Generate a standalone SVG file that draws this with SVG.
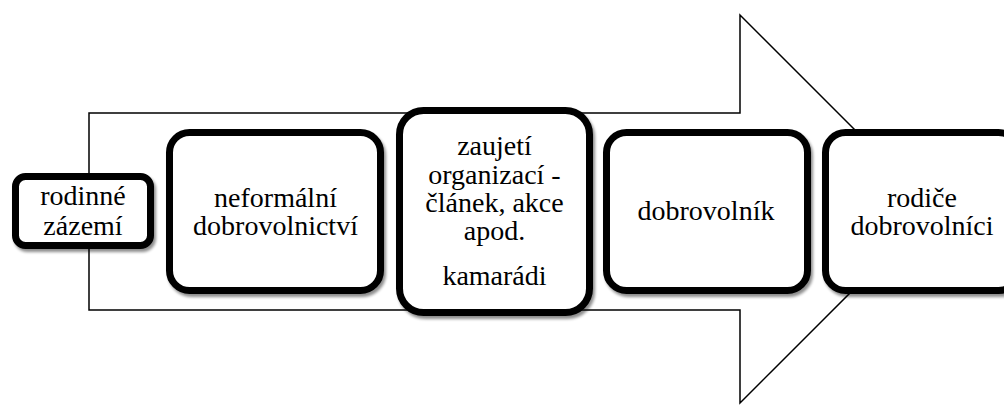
<svg xmlns="http://www.w3.org/2000/svg" width="1004" height="405" viewBox="0 0 1004 405">
<defs>
<filter id="sh" x="-10%" y="-10%" width="120%" height="125%">
<feGaussianBlur in="SourceAlpha" stdDeviation="1.5"/>
<feOffset dx="2" dy="3" result="b"/>
<feComponentTransfer><feFuncA type="linear" slope="0.45"/></feComponentTransfer>
<feMerge><feMergeNode/><feMergeNode in="SourceGraphic"/></feMerge>
</filter>
</defs>
<style>
.box{fill:#fff;stroke:#000;stroke-width:7;filter:url(#sh)}
.arrow{fill:#fff;stroke:#000;stroke-width:1.5}
</style>
<rect width="1004" height="405" fill="#fff"/>
<g id="connectors">
<polygon class="arrow" points="89,113 740,113 740,15 934,209 740,403 740,310 89,310"/>
</g>
<g font-family="Liberation Serif, Times New Roman, Tinos, DejaVu Serif, Noto Serif, serif" font-size="28" text-anchor="middle" fill="#000">
<g id="n1">
<rect class="box" x="15.5" y="176.5" width="135" height="69" rx="10"/>
<text x="83" y="205">rodinné</text>
<text x="83" y="235">zázemí</text>
</g>
<g id="n2">
<rect class="box" x="169.5" y="132.5" width="211" height="158" rx="20"/>
<text x="275.5" y="206.5">neformální</text>
<text x="275.5" y="235">dobrovolnictví</text>
</g>
<g id="n3">
<rect class="box" x="399.5" y="110.5" width="190" height="202" rx="24"/>
<text x="494.5" y="155">zaujetí</text>
<text x="494.5" y="183.5">organizací -</text>
<text x="494.5" y="212">článek, akce</text>
<text x="494.5" y="240">apod.</text>
<text x="494.5" y="285">kamarádi</text>
</g>
<g id="n4">
<rect class="box" x="606.5" y="132.5" width="201" height="158" rx="20"/>
<text x="706" y="220">dobrovolník</text>
</g>
<g id="n5">
<rect class="box" x="825.5" y="132.5" width="193" height="158" rx="20"/>
<text x="922" y="206.5">rodiče</text>
<text x="922" y="234.5">dobrovolníci</text>
</g>
</g>
</svg>
